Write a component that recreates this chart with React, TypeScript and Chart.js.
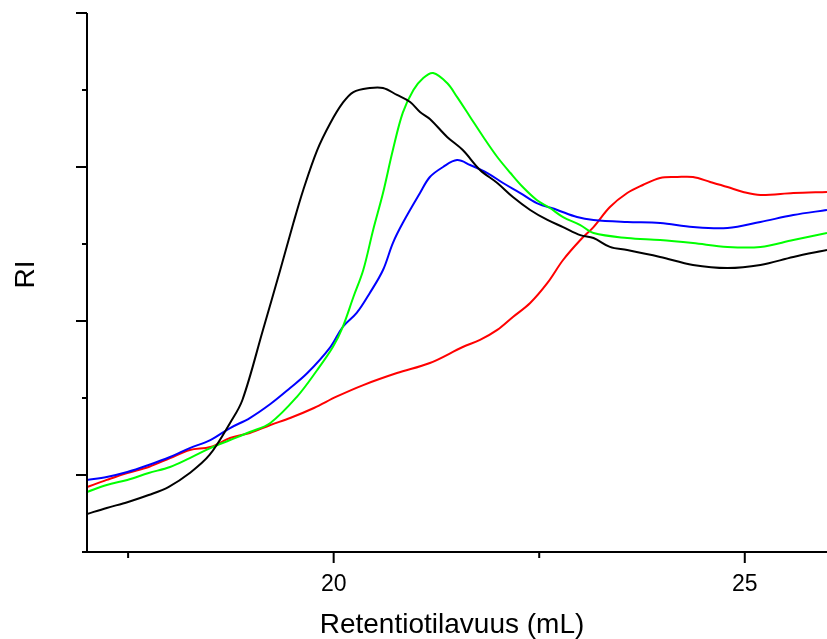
import React, { useEffect, useRef } from "react";
import { Chart, registerables } from "chart.js";

Chart.register(...registerables);

// Retention volume (mL) and RI signal (arbitrary units)
const blackX = [17.0, 17.24, 17.5, 17.75, 17.99, 18.25, 18.49, 18.74, 18.89, 19.14, 19.35, 19.51, 19.63, 19.8, 19.96, 20.11, 20.24, 20.44, 20.6, 20.77, 20.93, 21.05, 21.17, 21.38, 21.57, 21.78, 21.99, 22.18, 22.39, 22.6, 22.79, 23.0, 23.16, 23.36, 23.57, 23.97, 24.37, 24.79, 25.19, 25.59, 26.0];
const blackY = [-25.3, -21.4, -17.5, -13.0, -7.8, 1.3, 13.0, 33.8, 48.7, 94.2, 133.1, 163.6, 185.1, 211.0, 228.6, 241.6, 248.7, 251.3, 251.3, 246.8, 242.2, 235.7, 231.2, 219.5, 211.0, 198.1, 189.6, 180.5, 172.1, 165.6, 161.0, 155.8, 153.9, 148.1, 146.1, 141.6, 136.4, 134.4, 136.4, 141.6, 146.1];

const greenX = [17.0, 17.24, 17.49, 17.75, 18.01, 18.25, 18.5, 18.74, 18.98, 19.23, 19.55, 19.8, 19.99, 20.11, 20.24, 20.36, 20.48, 20.6, 20.72, 20.84, 20.97, 21.09, 21.21, 21.38, 21.5, 21.66, 21.82, 21.99, 22.15, 22.3, 22.47, 22.63, 22.79, 23.0, 23.16, 23.57, 23.97, 24.37, 24.79, 25.19, 25.59, 26.0];
const greenY = [-11.0, -6.5, -3.2, 1.3, 5.2, 11.0, 17.5, 22.7, 27.9, 33.8, 50.6, 68.2, 83.1, 96.1, 115.6, 133.1, 159.1, 183.1, 211.0, 235.1, 250.0, 257.8, 261.0, 254.5, 245.5, 232.5, 219.5, 206.5, 196.1, 187.0, 178.6, 173.4, 167.5, 162.3, 157.1, 153.9, 152.6, 150.6, 148.1, 148.1, 152.6, 157.1];

const blueX = [17.0, 17.24, 17.49, 17.75, 18.01, 18.25, 18.5, 18.74, 18.98, 19.23, 19.47, 19.68, 19.96, 20.11, 20.28, 20.44, 20.6, 20.72, 20.84, 21.05, 21.17, 21.33, 21.5, 21.66, 21.87, 22.06, 22.27, 22.47, 22.72, 22.96, 23.16, 23.57, 23.97, 24.37, 24.79, 25.19, 25.59, 26.0];
const blueY = [-3.2, -1.3, 1.9, 6.5, 11.7, 17.5, 22.7, 30.5, 37.0, 46.1, 56.5, 66.2, 83.1, 96.1, 105.2, 118.2, 133.1, 150.6, 163.6, 183.1, 193.5, 200.0, 204.5, 201.3, 196.1, 189.6, 183.1, 176.6, 172.1, 167.5, 165.6, 164.3, 163.6, 161.0, 160.4, 164.3, 168.8, 172.1];

const redX = [17.0, 17.24, 17.49, 17.75, 18.01, 18.25, 18.5, 18.74, 18.98, 19.23, 19.47, 19.76, 20.04, 20.36, 20.77, 21.17, 21.57, 21.78, 21.99, 22.18, 22.39, 22.6, 22.79, 23.0, 23.16, 23.36, 23.57, 23.76, 23.97, 24.18, 24.37, 24.58, 24.79, 24.98, 25.19, 25.59, 26.0];
const redY = [-7.8, -3.2, 1.3, 5.2, 11.0, 16.2, 18.2, 24.0, 27.3, 32.5, 37.0, 43.5, 51.0, 58.4, 66.2, 72.7, 83.1, 87.7, 94.2, 102.6, 111.7, 124.7, 139.6, 152.6, 161.0, 174.0, 183.1, 188.3, 192.9, 193.5, 193.5, 190.3, 187.0, 183.8, 181.8, 183.1, 183.8];

const xMajorTicks = [20, 25];
const xMinorTicks = [17.5, 22.5];
const yMajorTicks = [0, 100, 200, 300];
const yMinorTicks = [-50, 50, 150, 250];

const xTitle = "Retentiotilavuus (mL)";
const yTitle = "RI";
const FONT = "'Liberation Sans', Arial, sans-serif";

const toPoints = (xs: number[], ys: number[]) => xs.map((x, i) => ({ x, y: ys[i] }));

const axesPlugin = {
  id: "customAxes",
  afterDraw(chart: any) {
    const { ctx, chartArea, scales } = chart;
    const xs = scales.x;
    const ys = scales.y;
    ctx.save();
    ctx.strokeStyle = "#000";
    ctx.fillStyle = "#000";
    ctx.lineWidth = 2;
    ctx.beginPath();
    ctx.moveTo(chartArea.left, chartArea.top);
    ctx.lineTo(chartArea.left, chartArea.bottom);
    ctx.moveTo(chartArea.left, chartArea.bottom);
    ctx.lineTo(chartArea.right, chartArea.bottom);
    ctx.stroke();
    ctx.beginPath();
    yMajorTicks.forEach((v) => {
      const p = ys.getPixelForValue(v);
      ctx.moveTo(chartArea.left - 11, p);
      ctx.lineTo(chartArea.left, p);
    });
    yMinorTicks.forEach((v) => {
      const p = ys.getPixelForValue(v);
      ctx.moveTo(chartArea.left - 5, p);
      ctx.lineTo(chartArea.left, p);
    });
    xMajorTicks.forEach((v) => {
      const p = xs.getPixelForValue(v);
      ctx.moveTo(p, chartArea.bottom);
      ctx.lineTo(p, chartArea.bottom + 11);
    });
    xMinorTicks.forEach((v) => {
      const p = xs.getPixelForValue(v);
      ctx.moveTo(p, chartArea.bottom);
      ctx.lineTo(p, chartArea.bottom + 6);
    });
    ctx.stroke();
    ctx.font = `23px ${FONT}`;
    ctx.textAlign = "center";
    ctx.textBaseline = "alphabetic";
    xMajorTicks.forEach((v) => {
      ctx.fillText(String(v), xs.getPixelForValue(v), chartArea.bottom + 39);
    });
    ctx.font = `28px ${FONT}`;
    ctx.fillText(xTitle, (chartArea.left + chartArea.right) / 2 - 5, chartArea.bottom + 81);
    ctx.save();
    ctx.translate(34, (chartArea.top + chartArea.bottom) / 2 - 8);
    ctx.rotate(-Math.PI / 2);
    ctx.fillText(yTitle, 0, 0);
    ctx.restore();
    ctx.restore();
  },
};

export default function App() {
  const canvasRef = useRef<HTMLCanvasElement | null>(null);

  useEffect(() => {
    if (!canvasRef.current) return;
    const mk = (label: string, xs: number[], ys: number[], color: string) => ({
      label,
      data: toPoints(xs, ys),
      borderColor: color,
      backgroundColor: color,
      borderWidth: 2,
      pointRadius: 0,
      fill: false,
      tension: 0.35,
    });
    const chart = new Chart(canvasRef.current, {
      type: "line",
      data: {
        datasets: [
          mk("musta", blackX, blackY, "#000000"),
          mk("vihreä", greenX, greenY, "#00ff00"),
          mk("sininen", blueX, blueY, "#0000ff"),
          mk("punainen", redX, redY, "#ff0000"),
        ],
      },
      options: {
        animation: false,
        responsive: false,
        devicePixelRatio: 1,
        layout: { padding: { left: 87, top: 13, right: 0, bottom: 87 } },
        plugins: { legend: { display: false }, tooltip: { enabled: false } },
        scales: {
          x: { type: "linear", min: 17, max: 26, display: false },
          y: { type: "linear", min: -50, max: 300, display: false },
        },
      },
      plugins: [axesPlugin],
    });
    return () => chart.destroy();
  }, []);

  return (
    <div style={{ position: "fixed", left: 0, top: 0, width: 827, height: 639, background: "#fff" }}>
      <canvas ref={canvasRef} width={827} height={639} style={{ width: 827, height: 639, display: "block" }} />
    </div>
  );
}
